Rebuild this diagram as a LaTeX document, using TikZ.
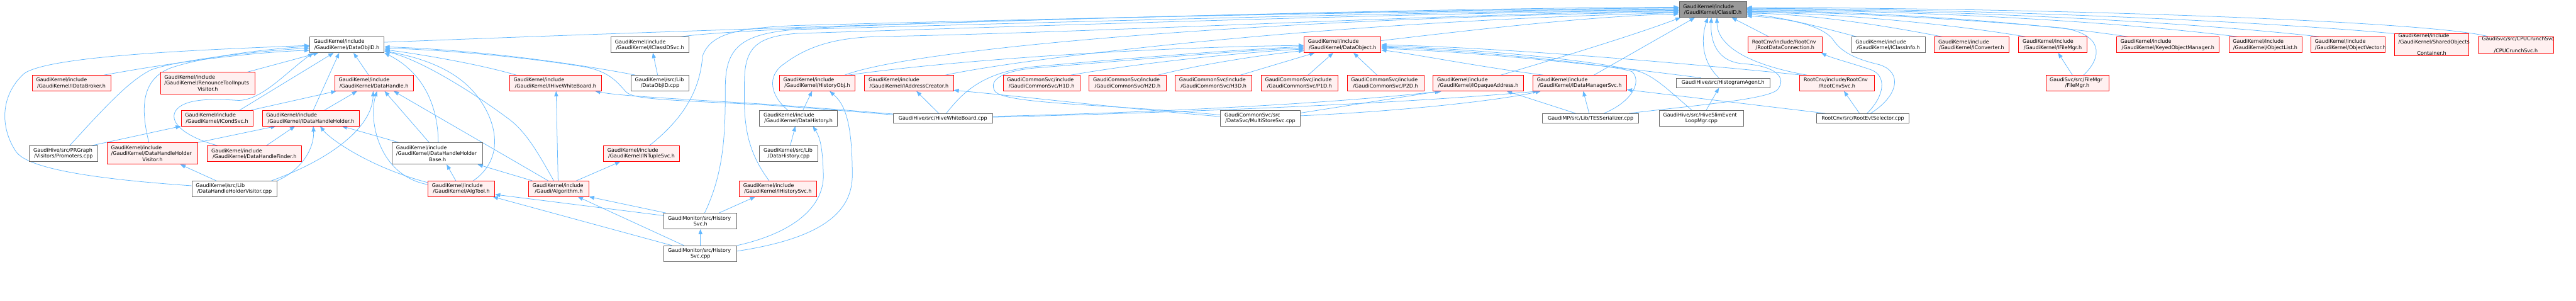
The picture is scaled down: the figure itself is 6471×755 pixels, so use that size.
\documentclass[tikz,border=0pt]{standalone}
\usepackage{fontspec}
\setmainfont{DejaVu Sans}
\usetikzlibrary{arrows.meta}
\definecolor{edgec}{HTML}{63B8FF}
\definecolor{redfill}{HTML}{FFF0F0}
\definecolor{grayb}{HTML}{666666}
\definecolor{rootfill}{HTML}{999999}
\newcommand{\twol}[2]{#1\hfill\null\\#2}
\newcommand{\threel}[3]{#1\hfill\null\\#2\hfill\null\\#3}
\newcommand{\nodefont}{\fontsize{12.7pt}{14.8pt}\selectfont}
\pgfdeclarelayer{bg}
\pgfsetlayers{bg,main}
\tikzset{
  bw/.code={\pgfmathsetlengthmacro\tmpw{#1}\pgfmathsetlengthmacro\tmpt{#1-20}\tikzset{minimum width=\tmpw,text width=\tmpt}},
  nbase/.style={rectangle, inner xsep=0pt, inner ysep=0pt, align=center, line width=1.3pt, font=\nodefont, minimum height=39pt},
  rbox/.style={nbase, draw=red, fill=redfill},
  gbox/.style={nbase, draw=grayb, fill=white},
  rootbox/.style={nbase, draw=grayb, fill=rootfill},
  threeline/.style={minimum height=54pt},
  oneline/.style={minimum height=24pt},
  dep/.style={draw=edgec, line width=1.2pt, -{Triangle[length=13pt,width=10pt]}},
}
\begin{document}
\begin{tikzpicture}[x=1pt,y=-1pt]
\useasboundingbox (0,0) rectangle (6471,755);
% ---- nodes
\node[rootbox,bw=169] (classid) at (4302.5,24) {\twol{GaudiKernel/include}{/GaudiKernel/ClassID.h}};
\node[gbox,bw=187] (dataobjidh) at (871.5,112.5) {\twol{GaudiKernel/include}{/GaudiKernel/DataObjID.h}};
\node[gbox,bw=196] (iclassidsvc) at (1633,112.5) {\twol{GaudiKernel/include}{/GaudiKernel/IClassIDSvc.h}};
\node[rbox,bw=193] (dataobject) at (3372.5,112.5) {\twol{GaudiKernel/include}{/GaudiKernel/DataObject.h}};
\node[rbox,bw=186] (rootdataconn) at (4484,112.5) {\twol{RootCnv/include/RootCnv}{/RootDataConnection.h}};
\node[gbox,bw=185] (iclassinfo) at (4743.5,112.5) {\twol{GaudiKernel/include}{/GaudiKernel/IClassInfo.h}};
\node[rbox,bw=187] (iconverter) at (4952.5,112.5) {\twol{GaudiKernel/include}{/GaudiKernel/IConverter.h}};
\node[rbox,bw=171] (ifilemgr) at (5156.5,112.5) {\twol{GaudiKernel/include}{/GaudiKernel/IFileMgr.h}};
\node[rbox,bw=258] (keyedobjmgr) at (5446,112.5) {\twol{GaudiKernel/include}{/GaudiKernel/KeyedObjectManager.h}};
\node[rbox,bw=183] (objectlist) at (5690.5,112.5) {\twol{GaudiKernel/include}{/GaudiKernel/ObjectList.h}};
\node[rbox,bw=187] (objectvector) at (5898.5,112.5) {\twol{GaudiKernel/include}{/GaudiKernel/ObjectVector.h}};
\node[rbox,bw=187,threeline] (sharedobj) at (6108.5,112) {\threel{GaudiKernel/include}{/GaudiKernel/SharedObjects}{Container.h}};
\node[rbox,bw=190] (cpucrunch) at (6320,112.5) {\twol{GaudiSvc/src/CPUCrunchSvc}{/CPUCrunchSvc.h}};
% row B
\node[rbox,bw=197] (idatabroker) at (179.5,208.5) {\twol{GaudiKernel/include}{/GaudiKernel/IDataBroker.h}};
\node[rbox,bw=238,threeline] (renounce) at (522,208.5) {\threel{GaudiKernel/include}{/GaudiKernel/RenounceToolInputs}{Visitor.h}};
\node[rbox,bw=197] (datahandle) at (939.5,208.5) {\twol{GaudiKernel/include}{/GaudiKernel/DataHandle.h}};
\node[rbox,bw=231] (ihivewb) at (1395.5,208.5) {\twol{GaudiKernel/include}{/GaudiKernel/IHiveWhiteBoard.h}};
\node[gbox,bw=146] (dataobjidcpp) at (1658,208.5) {\twol{GaudiKernel/src/Lib}{/DataObjID.cpp}};
\node[rbox,bw=190] (historyobj) at (2053,208.5) {\twol{GaudiKernel/include}{/GaudiKernel/HistoryObj.h}};
\node[rbox,bw=223] (iaddrcreator) at (2283.5,208.5) {\twol{GaudiKernel/include}{/GaudiKernel/IAddressCreator.h}};
\node[rbox,bw=193] (h1d) at (2616.5,208.5) {\twol{GaudiCommonSvc/include}{/GaudiCommonSvc/H1D.h}};
\node[rbox,bw=193] (h2d) at (2832.5,208.5) {\twol{GaudiCommonSvc/include}{/GaudiCommonSvc/H2D.h}};
\node[rbox,bw=193] (h3d) at (3048.5,208.5) {\twol{GaudiCommonSvc/include}{/GaudiCommonSvc/H3D.h}};
\node[rbox,bw=193] (p1d) at (3264.5,208.5) {\twol{GaudiCommonSvc/include}{/GaudiCommonSvc/P1D.h}};
\node[rbox,bw=193] (p2d) at (3480.5,208.5) {\twol{GaudiCommonSvc/include}{/GaudiCommonSvc/P2D.h}};
\node[rbox,bw=227] (iopaque) at (3713.5,208.5) {\twol{GaudiKernel/include}{/GaudiKernel/IOpaqueAddress.h}};
\node[rbox,bw=235] (idatamgr) at (3968.5,208.5) {\twol{GaudiKernel/include}{/GaudiKernel/IDataManagerSvc.h}};
\node[gbox,bw=235,oneline] (histagent) at (4328.5,208) {GaudiHive/src/HistogramAgent.h};
\node[rbox,bw=187] (rootcnvsvc) at (4614.5,208.5) {\twol{RootCnv/include/RootCnv}{/RootCnvSvc.h}};
\node[rbox,bw=158] (filemgr) at (5218,208.5) {\twol{GaudiSvc/src/FileMgr}{/FileMgr.h}};
% row C
\node[rbox,bw=180] (icondsvc) at (545,296.5) {\twol{GaudiKernel/include}{/GaudiKernel/ICondSvc.h}};
\node[rbox,bw=244] (idhh) at (781,296.5) {\twol{GaudiKernel/include}{/GaudiKernel/IDataHandleHolder.h}};
\node[gbox,bw=196] (datahistoryh) at (2006,296.5) {\twol{GaudiKernel/include}{/GaudiKernel/DataHistory.h}};
\node[gbox,bw=249,oneline] (hivewbcpp) at (2368.5,297) {GaudiHive/src/HiveWhiteBoard.cpp};
\node[gbox,bw=200] (multistore) at (3166,296.5) {\twol{GaudiCommonSvc/src}{/DataSvc/MultiStoreSvc.cpp}};
\node[gbox,bw=241,oneline] (tesser) at (3995.5,297) {GaudiMP/src/Lib/TESSerializer.cpp};
\node[gbox,bw=212] (hiveslim) at (4274,296.5) {\twol{GaudiHive/src/HiveSlimEvent}{LoopMgr.cpp}};
\node[gbox,bw=233,oneline] (rootevtsel) at (4679.5,297) {RootCnv/src/RootEvtSelector.cpp};
% row D
\node[gbox,bw=171] (promoters) at (159.5,385.5) {\twol{GaudiHive/src/PRGraph}{/Visitors/Promoters.cpp}};
\node[rbox,bw=228,threeline] (dhhvisitor) at (383,385) {\threel{GaudiKernel/include}{/GaudiKernel/DataHandleHolder}{Visitor.h}};
\node[rbox,bw=237] (dhfinder) at (639.5,385.5) {\twol{GaudiKernel/include}{/GaudiKernel/DataHandleFinder.h}};
\node[gbox,bw=228,threeline] (dhhbase) at (1099,385) {\threel{GaudiKernel/include}{/GaudiKernel/DataHandleHolder}{Base.h}};
\node[rbox,bw=191] (intuplesvc) at (1611.5,385.5) {\twol{GaudiKernel/include}{/GaudiKernel/INTupleSvc.h}};
\node[gbox,bw=146] (datahistcpp) at (1981,385.5) {\twol{GaudiKernel/src/Lib}{/DataHistory.cpp}};
% row E
\node[gbox,bw=214] (dhhvisitorcpp) at (589,473.5) {\twol{GaudiKernel/src/Lib}{/DataHandleHolderVisitor.cpp}};
\node[rbox,bw=168] (algtool) at (1159,473.5) {\twol{GaudiKernel/include}{/GaudiKernel/AlgTool.h}};
\node[rbox,bw=151] (algorithm) at (1403.5,473.5) {\twol{GaudiKernel/include}{/Gaudi/Algorithm.h}};
\node[rbox,bw=194] (ihistorysvc) at (1954,473.5) {\twol{GaudiKernel/include}{/GaudiKernel/IHistorySvc.h}};
\node[gbox,bw=183] (historysvch) at (1759.5,554.5) {\twol{GaudiMonitor/src/History}{Svc.h}};
\node[gbox,bw=183] (historysvccpp) at (1759.5,636) {\twol{GaudiMonitor/src/History}{Svc.cpp}};
% ---- edges
\begin{pgfonlayer}{bg}
% left cluster
\draw[dep] ([xshift=81.5pt]idatabroker.north) .. controls (400,163) and (600,133) .. ([yshift=-13.5pt]dataobjidh.west);
\draw[dep] ([xshift=99pt]renounce.north) -- ([xshift=-71.5pt]dataobjidh.south);
\draw[dep] ([xshift=15.5pt]promoters.north) .. controls (280,250) and (330,200) .. (380,175) .. controls (450,150) and (650,128) .. ([yshift=-8pt]dataobjidh.west);
\draw[dep] ([xshift=-9pt]dhhvisitor.north) .. controls (355,280) and (350,200) .. (430,170) .. controls (520,140) and (680,122) .. ([yshift=-4pt]dataobjidh.west);
\draw[dep] ([yshift=7.5pt]dhhvisitorcpp.west) .. controls (250,450) and (70,425) .. (40,380) .. controls (0,320) and (0,240) .. (60,185) .. controls (120,140) and (500,125) .. ([yshift=-1.5pt]dataobjidh.west);
\draw[dep] ([xshift=-92.5pt]dhfinder.north) .. controls (470,345) and (425,310) .. (440,280) .. controls (460,245) and (540,248) .. (600,252) .. controls (660,250) and (720,180) .. ([xshift=-84.5pt]dataobjidh.south);
\draw[dep] ([xshift=57pt]icondsvc.north) -- ([xshift=-33.5pt]dataobjidh.south);
\draw[dep] ([xshift=86pt]icondsvc.north) -- ([xshift=-95pt]datahandle.south);
\draw[dep] ([xshift=70pt]promoters.north) -- (icondsvc.south west);
\draw[dep] (dhhvisitor.north east) -- ([xshift=-88pt]idhh.south);
\draw[dep] ([xshift=-46pt]dhhvisitorcpp.north) -- ([xshift=70pt]dhhvisitor.south);
\draw[dep] ([xshift=29.5pt]dhfinder.north) -- ([xshift=-40pt]idhh.south);
\draw[dep] ([xshift=93pt]dhhvisitorcpp.north) .. controls (830,400) and (935,320) .. ([xshift=-2pt]datahandle.south);
\draw[dep] (dhhvisitorcpp.north east) .. controls (760,425) and (790,370) .. ([xshift=6pt]idhh.south);
\draw[dep] ([xshift=6pt]idhh.north) -- ([xshift=-19.5pt]dataobjidh.south);
\draw[dep] ([xshift=34pt]idhh.north) -- ([xshift=-42.5pt]datahandle.south);
\draw[dep] ([xshift=-13.5pt]datahandle.north) -- ([xshift=16.5pt]dataobjidh.south);
\draw[dep] ([xshift=-21pt]dhhbase.north) -- ([xshift=26.5pt]datahandle.south);
\draw[dep] ([xshift=-97pt]dhhbase.north) -- ([xshift=78pt]idhh.south);
\draw[dep] ([xshift=2pt]dhhbase.north) .. controls (1100,260) and (1060,180) .. (dataobjidh.south east);
\draw[dep] ([xshift=30pt]algtool.north) .. controls (1280,390) and (1240,280) .. (1180,220) .. controls (1120,160) and (1030,140) .. ([yshift=-15pt]dataobjidh.east);
\draw[dep] ([yshift=15.5pt]algtool.west) .. controls (930,420) and (830,350) .. ([xshift=23pt]idhh.south);
\draw[dep] ([yshift=10.5pt]algtool.west) .. controls (950,440) and (925,300) .. ([xshift=7.5pt]datahandle.south);
\draw[dep] ([xshift=-14pt]algtool.north) -- ([xshift=23pt]dhhbase.south);
\draw[dep] ([yshift=13.5pt]historysvch.west) -- ([yshift=-14.5pt]algtool.east);
\draw[dep] ([xshift=-71.5pt]historysvccpp.north) -- ([xshift=79pt]algtool.south);
\draw[dep] ([xshift=-26.5pt]algorithm.north) -- ([xshift=49.5pt]datahandle.south);
\draw[dep] ([xshift=-66.5pt]algorithm.north) -- ([xshift=101pt]dhhbase.south);
\draw[dep] ([xshift=-12.5pt]algorithm.north) .. controls (1350,380) and (1320,330) .. (1280,300) .. controls (1200,240) and (1060,150) .. ([yshift=-16pt]dataobjidh.east);
\draw[dep] ([xshift=-1.5pt]algorithm.north) -- ([xshift=1.5pt]ihivewb.south);
\draw[dep] ([xshift=44.5pt]algorithm.north) -- ([xshift=-53.5pt]intuplesvc.south);
\draw[dep] ([xshift=-86.5pt]historysvch.north) -- (algorithm.south east);
\draw[dep] ([xshift=-41.5pt]historysvccpp.north) -- ([xshift=48pt]algorithm.south);
\draw[dep] (historysvccpp.north) -- (historysvch.south);
\draw[dep] ([xshift=46.5pt]historysvch.north) -- ([xshift=-57pt]ihistorysvc.south);
\draw[dep] (historysvccpp.north east) .. controls (1990,585) and (2075,520) .. (2068,430) .. controls (2066,370) and (2060,345) .. ([xshift=36pt]datahistoryh.south);
\draw[dep] ([yshift=6pt]historysvccpp.east) .. controls (2050,600) and (2141,540) .. (2141,440) .. controls (2141,300) and (2120,260) .. ([xshift=31pt]historyobj.south);
\draw[dep] ([xshift=11pt]datahistoryh.north) -- ([xshift=-13pt]historyobj.south);
\draw[dep] ([xshift=4pt]datahistcpp.north) -- ([xshift=-8pt]datahistoryh.south);
% hive whiteboard / data objid
\draw[dep] ([yshift=11pt]hivewbcpp.west) .. controls (2050,270) and (1950,263) .. (1900,260) .. controls (1700,248) and (1550,240) .. ([xshift=99.5pt]ihivewb.south);
\draw[dep] ([yshift=9pt]hivewbcpp.west) .. controls (2050,272) and (1950,265) .. (1900,262) .. controls (1650,250) and (1590,248) .. (1572,230) .. controls (1550,205) and (1530,180) .. (1470,168) .. controls (1300,140) and (1100,125) .. ([yshift=-8pt]dataobjidh.east);
\draw[dep] ([xshift=-62pt]dataobjidcpp.north) .. controls (1450,160) and (1200,125) .. ([yshift=-5pt]dataobjidh.east);
\draw[dep] ([xshift=-6pt]dataobjidcpp.north) -- ([xshift=7pt]iclassidsvc.south);
\draw[dep] ([xshift=-98.5pt]ihivewb.north) .. controls (1200,160) and (1050,135) .. ([yshift=-12pt]dataobjidh.east);
\draw[dep] ([xshift=-10.5pt]hivewbcpp.north) -- ([xshift=18.5pt]iaddrcreator.south);
\draw[dep] ([yshift=4pt]multistore.west) .. controls (2800,270) and (2550,240) .. ([yshift=-18pt]iaddrcreator.east);
\draw[dep] ([xshift=8.5pt]hivewbcpp.north) .. controls (2420,230) and (2470,180) .. (2600,167) .. controls (2850,145) and (3100,125) .. ([yshift=-4.5pt]dataobject.west);
\draw[dep] ([yshift=8pt]multistore.west) .. controls (2800,262) and (2530,262) .. (2500,230) .. controls (2480,200) and (2520,175) .. (2620,169) .. controls (2850,150) and (3100,128) .. ([yshift=-7.5pt]dataobject.west);
\draw[dep] ([yshift=13pt]multistore.east) -- ([xshift=-96pt]iopaque.south);
\draw[dep] ([yshift=6pt]multistore.east) .. controls (3500,280) and (3750,255) .. ([xshift=-98pt]idatamgr.south);
\draw[dep] ([yshift=5pt]hivewbcpp.east) .. controls (2800,285) and (3300,265) .. ([xshift=-92pt]iopaque.south);
\draw[dep] ([yshift=3pt]hivewbcpp.east) .. controls (2900,284) and (3500,262) .. ([xshift=-104pt]idatamgr.south);
% data object
\draw[dep] ([xshift=73.5pt]h1d.north) .. controls (2850,160) and (3100,133) .. ([yshift=-10.5pt]dataobject.west);
\draw[dep] ([xshift=76.5pt]h2d.north) .. controls (3000,165) and (3150,140) .. ([yshift=-14.5pt]dataobject.west);
\draw[dep] ([xshift=67.5pt]h3d.north) -- ([xshift=-70pt]dataobject.south);
\draw[dep] ([xshift=21.5pt]p1d.north) -- ([xshift=-23.5pt]dataobject.south);
\draw[dep] ([xshift=-21.5pt]p2d.north) -- ([xshift=27.5pt]dataobject.south);
\draw[dep] ([xshift=78pt]historyobj.north) .. controls (2400,150) and (2900,118) .. ([yshift=-1.5pt]dataobject.west);
\draw[dep] ([xshift=69pt]historyobj.north) .. controls (2300,120) and (3200,45) .. ([yshift=-6pt]classid.west);
\draw[dep] ([xshift=91.5pt]iaddrcreator.north) .. controls (2550,150) and (3300,55) .. ([yshift=-8pt]classid.west);
\draw[dep] ([yshift=10.5pt]dataobject.east) .. controls (3700,75) and (4000,40) .. ([yshift=-11pt]classid.west);
\draw[dep] ([xshift=56.5pt]iopaque.north) .. controls (3900,150) and (4100,90) .. ([xshift=-81pt]classid.south);
\draw[dep] ([xshift=35.5pt]idatamgr.north) -- ([xshift=-45pt]classid.south);
\draw[dep] ([xshift=-92.5pt]idatamgr.north) .. controls (3700,165) and (3550,135) .. ([yshift=-13pt]dataobject.east);
\draw[dep] ([xshift=-3.5pt]tesser.north) -- ([xshift=8.5pt]idatamgr.south);
\draw[dep] ([xshift=-37.5pt]tesser.north) -- ([xshift=71.5pt]iopaque.south);
\draw[dep] ([xshift=33.5pt]tesser.north) .. controls (4100,255) and (4125,205) .. (4100,180) .. controls (4070,165) and (3700,125) .. ([yshift=-6pt]dataobject.east);
\draw[dep] ([xshift=96.5pt]tesser.north) .. controls (4250,265) and (4440,250) .. (4465,225) .. controls (4490,195) and (4460,165) .. (4380,160) .. controls (4310,155) and (4296,100) .. ([xshift=-3.5pt]classid.south);
\draw[dep] ([xshift=12pt]hiveslim.north) -- ([xshift=-10.5pt]histagent.south);
\draw[dep] ([xshift=-24pt]hiveslim.north) .. controls (4190,225) and (4160,195) .. (4120,180) .. controls (4000,150) and (3700,122) .. ([yshift=-3pt]dataobject.east);
\draw[dep] ([xshift=-10.5pt]histagent.north) .. controls (4270,150) and (4275,90) .. ([xshift=-12.5pt]classid.south);
\draw[dep] ([xshift=-55.5pt]histagent.north) .. controls (4000,160) and (3700,130) .. ([yshift=-9pt]dataobject.east);
\draw[dep] ([xshift=-75.5pt]rootcnvsvc.north) .. controls (4380,160) and (4313,110) .. ([xshift=10.5pt]classid.south);
\draw[dep] ([xshift=-88.5pt]rootcnvsvc.north) .. controls (4300,165) and (3800,120) .. (dataobject.east);
\draw[dep] ([xshift=-8.5pt]rootevtsel.north) -- ([xshift=17.5pt]rootcnvsvc.south);
\draw[dep] ([xshift=-94.5pt]rootevtsel.north) -- ([yshift=-16.5pt]idatamgr.east);
\draw[dep] ([xshift=10.5pt]rootevtsel.north) .. controls (4735,240) and (4740,190) .. (4700,175) .. controls (4650,158) and (4600,145) .. ([xshift=91pt]rootdataconn.south);
\draw[dep] ([xshift=19.5pt]rootevtsel.north) .. controls (4770,240) and (4780,180) .. (4720,162) .. controls (4660,148) and (4625,130) .. (4605,100) .. controls (4575,60) and (4480,45) .. ([yshift=-16pt]classid.east);
\draw[dep] ([xshift=-40pt]rootdataconn.north) -- ([xshift=47.5pt]classid.south);
% right fan
\draw[dep] ([xshift=-78.5pt]iclassinfo.north) .. controls (4580,70) and (4470,40) .. ([yshift=-12pt]classid.east);
\draw[dep] ([xshift=-72.5pt]iconverter.north) .. controls (4740,65) and (4550,35) .. ([yshift=-9pt]classid.east);
\draw[dep] ([xshift=-66.5pt]ifilemgr.north) .. controls (4900,60) and (4600,32) .. ([yshift=-7pt]classid.east);
\draw[dep] ([xshift=16pt]filemgr.north) .. controls (5285,140) and (5280,85) .. (5180,70) .. controls (4900,45) and (4600,30) .. ([yshift=-5pt]classid.east);
\draw[dep] ([xshift=-12pt]filemgr.north) -- ([xshift=13.5pt]ifilemgr.south);
\draw[dep] ([xshift=-99pt]keyedobjmgr.north) .. controls (5100,55) and (4700,28) .. ([yshift=-3pt]classid.east);
\draw[dep] ([xshift=-67.5pt]objectlist.north) .. controls (5300,52) and (4800,26) .. ([yshift=-1pt]classid.east);
\draw[dep] ([xshift=-69.5pt]objectvector.north) .. controls (5500,55) and (4900,24) .. ([yshift=1pt]classid.east);
\draw[dep] (sharedobj.north west) .. controls (5700,55) and (5000,22) .. ([yshift=3pt]classid.east);
\draw[dep] ([xshift=-70pt]cpucrunch.north) .. controls (6120,55) and (5200,20) .. ([yshift=5pt]classid.east);
% left fan into ClassID
\draw[dep] ([yshift=6.5pt]dataobjidh.east) .. controls (2000,65) and (3500,20) .. ([yshift=6pt]classid.west);
\draw[dep] ([xshift=76pt]iclassidsvc.north) .. controls (1900,62) and (3400,25) .. ([yshift=4pt]classid.west);
\draw[dep] ([xshift=19.5pt]intuplesvc.north) .. controls (1740,280) and (1760,200) .. (1765,140) .. controls (1785,85) and (1850,70) .. (2000,64) .. controls (2800,42) and (3700,26) .. ([yshift=2pt]classid.west);
\draw[dep] ([xshift=10.5pt]historysvch.north) .. controls (1820,430) and (1822,330) .. (1822,220) .. controls (1822,120) and (1860,85) .. (2000,74) .. controls (2900,48) and (3700,28) .. (classid.west);
\draw[dep] ([xshift=-22pt]ihistorysvc.north) .. controls (1870,370) and (1868,300) .. (1870,200) .. controls (1872,120) and (1900,92) .. (2000,84) .. controls (2900,55) and (3700,30) .. ([yshift=-2pt]classid.west);
\draw[dep] ([xshift=-27pt]datahistoryh.north) .. controls (1935,240) and (1925,190) .. (1970,160) .. controls (2030,115) and (2100,95) .. (2200,92) .. controls (2800,80) and (3700,32) .. ([yshift=-4pt]classid.west);
\end{pgfonlayer}
\end{tikzpicture}
\end{document}
